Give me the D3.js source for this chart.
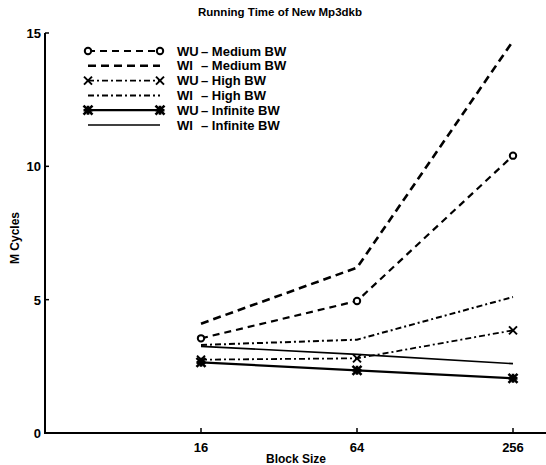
<!DOCTYPE html>
<html>
<head>
<meta charset="utf-8">
<script src="https://cdn.jsdelivr.net/npm/d3@7"></script>
<style>
  body { margin: 0; background: #fff; }
  svg { display: block; font-family: 'Liberation Sans', Arial, sans-serif; font-weight: bold; }
</style>
</head>
<body>
<div id="chart"></div>
<script>
const blockSizes = [16, 64, 256];
const yTicks = [0, 5, 10, 15];

const wuMedium = [3.55, 4.95, 10.4];
const wiMedium = [4.1, 6.2, 14.7];
const wuHigh = [2.75, 2.8, 3.85];
const wiHigh = [3.3, 3.5, 5.1];
const wuInfinite = [2.65, 2.35, 2.05];
const wiInfinite = [3.25, 2.95, 2.6];

const seriesNames = ['WU', 'WI', 'WU', 'WI', 'WU', 'WI'];
const bwNames = ['Medium BW', 'Medium BW', 'High BW', 'High BW', 'Infinite BW', 'Infinite BW'];

const width = 546;
const height = 465;

const series = [
  { values: wuMedium, dash: '7,5', marker: 'circle', sw: 2.2 },
  { values: wiMedium, dash: '8,5', marker: null, sw: 2.6 },
  { values: wuHigh, dash: '6,3,2,3', marker: 'cross', sw: 1.8 },
  { values: wiHigh, dash: '6,3,2,3', marker: null, sw: 2 },
  { values: wuInfinite, dash: null, marker: 'star', sw: 2.2 },
  { values: wiInfinite, dash: null, marker: null, sw: 1.6 }
].map((s, i) => ({ ...s, name: seriesNames[i], bw: bwNames[i] }));

const x = d3.scaleLog().base(2).domain([4, 256]).range([45, 513]);
const y = d3.scaleLinear().domain([0, 15]).range([433, 33]);

const svg = d3.select('#chart').append('svg')
  .attr('width', width)
  .attr('height', height);

// axes: only left and bottom, ticks pointing inward
svg.append('line')
  .attr('x1', x(4)).attr('x2', width)
  .attr('y1', y(0)).attr('y2', y(0))
  .attr('stroke', '#000').attr('stroke-width', 2);
svg.append('line')
  .attr('x1', x(4)).attr('x2', x(4))
  .attr('y1', y(0) + 1).attr('y2', y(15))
  .attr('stroke', '#000').attr('stroke-width', 2);

svg.selectAll('.ytick').data(yTicks).join('line')
  .attr('class', 'ytick')
  .attr('x1', x(4)).attr('x2', x(4) + 4)
  .attr('y1', d => y(d)).attr('y2', d => y(d))
  .attr('stroke', '#000').attr('stroke-width', 1.5);
svg.selectAll('.ylabel').data(yTicks).join('text')
  .attr('class', 'ylabel')
  .attr('x', x(4) - 4).attr('y', d => y(d) + 5)
  .attr('text-anchor', 'end')
  .attr('font-size', 13)
  .text(d => d);

svg.selectAll('.xtick').data(blockSizes).join('line')
  .attr('class', 'xtick')
  .attr('x1', d => x(d)).attr('x2', d => x(d))
  .attr('y1', y(0)).attr('y2', y(0) - 5)
  .attr('stroke', '#000').attr('stroke-width', 1.5);
svg.selectAll('.xlabel').data(blockSizes).join('text')
  .attr('class', 'xlabel')
  .attr('x', d => x(d)).attr('y', 452)
  .attr('text-anchor', 'middle')
  .attr('font-size', 13)
  .text(d => d);

svg.append('text')
  .attr('x', 296).attr('y', 463)
  .attr('text-anchor', 'middle')
  .attr('font-size', 12)
  .text('Block Size');

svg.append('text')
  .attr('transform', 'translate(19,238) rotate(-90)')
  .attr('text-anchor', 'middle')
  .attr('font-size', 12)
  .text('M Cycles');

svg.append('text')
  .attr('x', 280).attr('y', 16)
  .attr('text-anchor', 'middle')
  .attr('font-size', 11.5)
  .text('Running Time of New Mp3dkb');

// markers
function drawMarker(sel, type, cx, cy) {
  if (type === 'circle') {
    sel.append('circle')
      .attr('cx', cx).attr('cy', cy).attr('r', 3.2)
      .attr('fill', '#fff').attr('stroke', '#000').attr('stroke-width', 2);
  } else if (type === 'cross') {
    const r = 4;
    sel.append('path')
      .attr('d', `M${cx - r},${cy - r}L${cx + r},${cy + r}M${cx - r},${cy + r}L${cx + r},${cy - r}`)
      .attr('stroke', '#000').attr('stroke-width', 2);
  } else if (type === 'star') {
    const r = 4.5;
    sel.append('path')
      .attr('d', `M${cx - r},${cy - r}L${cx + r},${cy + r}M${cx - r},${cy + r}L${cx + r},${cy - r}` +
        `M${cx - r},${cy}L${cx + r},${cy}M${cx},${cy - r}L${cx},${cy + r}`)
      .attr('stroke', '#000').attr('stroke-width', 2.6);
  }
}

const line = d3.line()
  .x((d, i) => x(blockSizes[i]))
  .y(d => y(d));

const plot = svg.append('g');
series.forEach(s => {
  plot.append('path')
    .attr('d', line(s.values))
    .attr('fill', 'none')
    .attr('stroke', '#000')
    .attr('stroke-width', s.sw)
    .attr('stroke-dasharray', s.dash);
  s.values.forEach((v, i) => drawMarker(plot, s.marker, x(blockSizes[i]), y(v)));
});

// legend
const legendY = d3.scaleLinear().domain([0, 5]).range([51, 125]);
const legend = svg.append('g');
series.forEach((s, i) => {
  const ly = legendY(i);
  legend.append('line')
    .attr('x1', 88).attr('x2', 160)
    .attr('y1', ly).attr('y2', ly)
    .attr('stroke', '#000')
    .attr('stroke-width', s.sw)
    .attr('stroke-dasharray', s.dash);
  drawMarker(legend, s.marker, 88, ly);
  drawMarker(legend, s.marker, 160, ly);
  legend.append('text')
    .attr('x', 177).attr('y', ly + 4.5)
    .attr('font-size', 13)
    .text(s.name);
  legend.append('text')
    .attr('x', 201).attr('y', ly + 4.5)
    .attr('font-size', 13)
    .text('– ' + s.bw);
});
</script>
</body>
</html>
